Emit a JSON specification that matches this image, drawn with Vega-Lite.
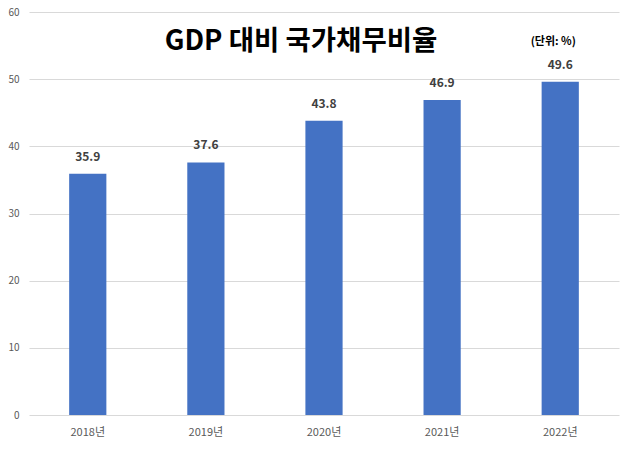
{
  "$schema": "https://vega.github.io/schema/vega-lite/v6.json",
  "width": 590,
  "height": 403,
  "autosize": {"type": "none"},
  "padding": {"left": 29, "top": 12, "right": 11, "bottom": 35},
  "background": "white",
  "config": {"view": {"stroke": null}, "font": "Noto Sans CJK KR"},
  "title": {
    "text": "GDP 대비 국가채무비율",
    "fontSize": 27.5,
    "fontWeight": "bold",
    "color": "#000000",
    "anchor": "middle",
    "frame": "group",
    "baseline": "middle",
    "offset": -30,
    "dy": 32,
    "dx": -23,
    "font": "Noto Sans CJK KR"
  },
  "data": {
    "values": [
      {"year": "2018년", "value": 35.9},
      {"year": "2019년", "value": 37.6},
      {"year": "2020년", "value": 43.8},
      {"year": "2021년", "value": 46.9},
      {"year": "2022년", "value": 49.6}
    ]
  },
  "layer": [
    {
      "mark": {"type": "bar", "color": "#4472C4"},
      "encoding": {
        "x": {
          "field": "year", "type": "nominal", "sort": null,
          "scale": {"paddingInner": 0.685, "paddingOuter": 0.34},
          "axis": {"title": null, "labelAngle": 0, "domain": false, "ticks": false, "labelPadding": 11, "labelFontSize": 11, "labelColor": "#595959", "labelFont": "Noto Sans CJK KR"}
        },
        "y": {
          "field": "value", "type": "quantitative",
          "scale": {"domain": [0, 60]},
          "axis": {"title": null, "values": [0, 10, 20, 30, 40, 50, 60], "domain": false, "ticks": false, "labelPadding": 10, "labelFontSize": 10, "labelColor": "#595959", "gridColor": "#d9d9d9", "gridWidth": 1, "labelFont": "Noto Sans CJK KR"}
        }
      }
    },
    {
      "mark": {"type": "text", "dy": -17, "fontSize": 12, "fontWeight": "bold", "color": "#404040", "font": "Noto Sans CJK KR"},
      "encoding": {
        "x": {"field": "year", "type": "nominal", "sort": null},
        "y": {"field": "value", "type": "quantitative"},
        "text": {"field": "value", "type": "quantitative", "format": ".1f"}
      }
    },
    {
      "data": {"values": [{"year": "2022년", "value": 55.5, "label": "(단위: %)"}]},
      "mark": {"type": "text", "dx": -7, "fontSize": 11, "fontWeight": "bold", "color": "#000000", "font": "Noto Sans CJK KR"},
      "encoding": {
        "x": {"field": "year", "type": "nominal", "sort": null},
        "y": {"field": "value", "type": "quantitative"},
        "text": {"field": "label", "type": "nominal"}
      }
    }
  ]
}
